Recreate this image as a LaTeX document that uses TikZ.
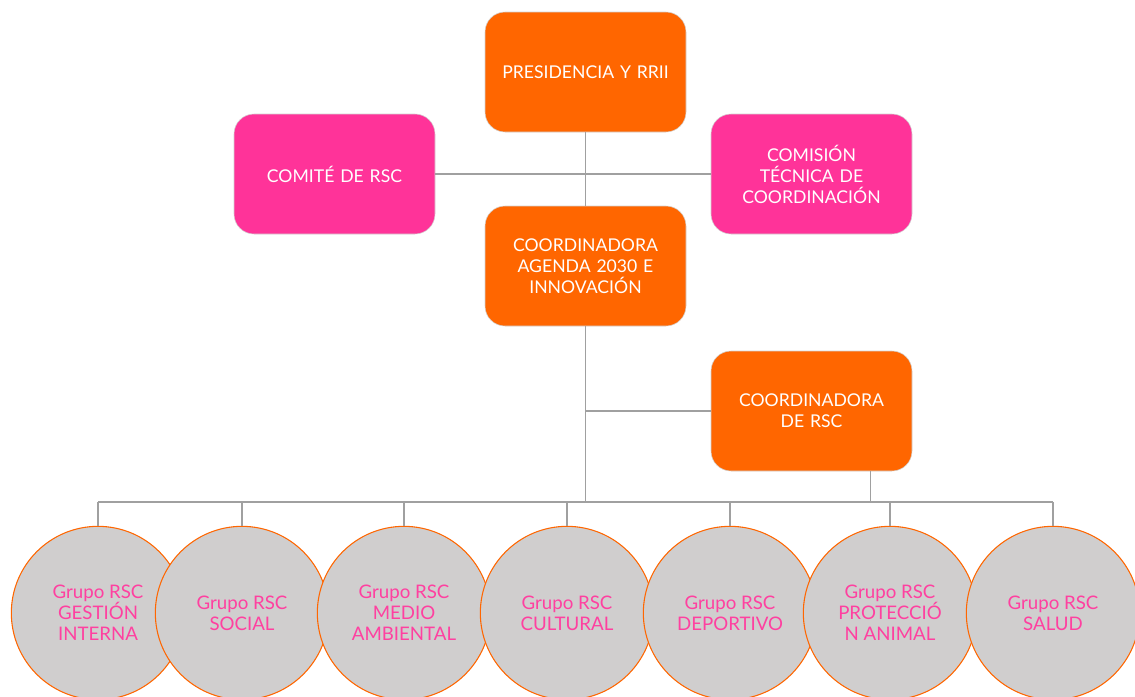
\documentclass[tikz,border=0pt]{standalone}
\usepackage{fontspec}
\setmainfont{Lato}
\usepackage{tikz}
\definecolor{rscOrange}{RGB}{255, 102, 0}
\definecolor{rscPink}{RGB}{255, 51, 153}
\definecolor{rscGrey}{RGB}{208, 206, 206}
\definecolor{rscLine}{RGB}{160, 160, 160}
\definecolor{rscText}{RGB}{255, 64, 160}

\begin{document}
\begin{tikzpicture}[
    x=0.75pt, y=-0.75pt,
    mainbox/.style={
        rectangle,
        rounded corners=15pt,
        draw=gray!35,
        fill=rscOrange,
        text=white,
        minimum width=150.75pt,
        minimum height=90pt,
        text width=140pt,
        align=center,
        font=\fontsize{13.2}{15.75}\selectfont
    },
    sidebox/.style={
        mainbox,
        fill=rscPink
    },
    group/.style={
        circle,
        draw=rscOrange,
        line width=0.8pt,
        fill=rscGrey,
        minimum size=130pt,
        inner sep=0pt,
        text=rscText,
        align=center,
        font=\fontsize{14}{15.75}\selectfont
    },
    link/.style={draw=rscLine, line width=0.9pt}
]
    \useasboundingbox (0,0) rectangle (1135,696);

    % Boxes
    \node[mainbox] (pres) at (585.5,72) {PRESIDENCIA Y RRII};
    \node[sidebox] (comite) at (334.5,174) {COMITÉ DE RSC};
    \node[sidebox] (comision) at (811.5,174) {COMISIÓN\\TÉCNICA DE\\COORDINACIÓN};
    \node[mainbox] (agenda) at (585.5,266) {COORDINADORA\\AGENDA 2030 E\\INNOVACIÓN};
    \node[mainbox] (rsc) at (811.5,411) {COORDINADORA\\DE RSC};

    % Groups
    \node[group] (g1) at (98,613) {Grupo RSC\\GESTIÓN\\INTERNA};
    \node[group] (g2) at (242,613) {Grupo RSC\\SOCIAL};
    \node[group] (g3) at (404,613) {Grupo RSC\\MEDIO\\AMBIENTAL};
    \node[group] (g4) at (567,613) {Grupo RSC\\CULTURAL};
    \node[group] (g5) at (730,613) {Grupo RSC\\DEPORTIVO};
    \node[group] (g6) at (890,613) {Grupo RSC\\PROTECCIÓ\\N ANIMAL};
    \node[group] (g7) at (1053,613) {Grupo RSC\\SALUD};

    % Links
    \coordinate (bus) at (585.5,502);
    \draw[link] (pres.south) -- (agenda.north);
    \draw[link] (comite.east) -- (comision.west);
    \draw[link] (agenda.south) -- (bus);
    \draw[link] (agenda.south |- rsc.west) -- (rsc.west);
    \draw[link] ([xshift=44pt]rsc.south) -- ([xshift=44pt]rsc.south |- bus);
    \draw[link] (g1.north |- bus) -- (g7.north |- bus);
    \foreach \g in {g1,g2,g3,g4,g5,g6,g7}
        \draw[link] (\g.north |- bus) -- (\g.north);

\end{tikzpicture}
\end{document}
